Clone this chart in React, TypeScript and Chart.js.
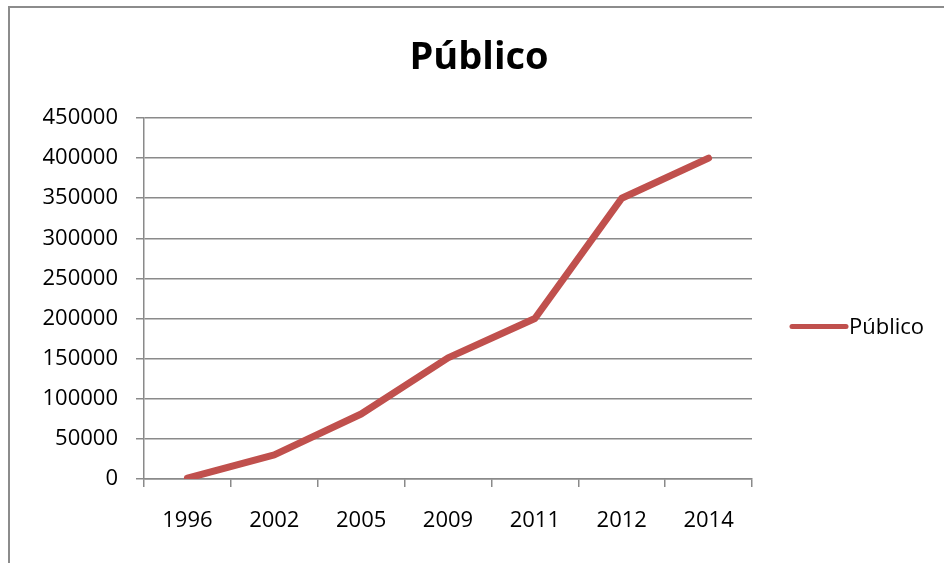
import React, { useEffect, useRef } from "react";
import { Chart, registerables } from "chart.js";

Chart.register(...registerables);

const categories = ["1996", "2002", "2005", "2009", "2011", "2012", "2014"];
const publico = [1000, 30000, 81000, 151000, 200000, 350000, 400000];
const seriesName = "Público";
const chartTitle = "Público";

const FONT = "'Open Sans', 'Liberation Sans', sans-serif";
const GRID = "#8a8a8a";
const RED = "#C0504D";

const customPlugin = {
  id: "excelDecor",
  afterDraw(chart: any) {
    const ctx = chart.ctx;
    const area = chart.chartArea;
    ctx.save();
    // title
    ctx.fillStyle = "#000";
    ctx.font = `bold 38px ${FONT}`;
    ctx.textAlign = "center";
    ctx.textBaseline = "alphabetic";
    ctx.fillText(chartTitle, chart.width / 2 + 2, 61);
    // legend
    const ly = (area.top + area.bottom) / 2 + 28;
    const lx = area.right + 40;
    ctx.strokeStyle = RED;
    ctx.lineWidth = 5;
    ctx.lineCap = "round";
    ctx.beginPath();
    ctx.moveTo(lx, ly);
    ctx.lineTo(lx + 54, ly);
    ctx.stroke();
    ctx.fillStyle = "#000";
    ctx.font = `22px ${FONT}`;
    ctx.textAlign = "left";
    ctx.textBaseline = "middle";
    ctx.fillText(seriesName, lx + 57, ly + 1);
    ctx.restore();
  },
};

export default function App() {
  const ref = useRef<HTMLCanvasElement | null>(null);
  useEffect(() => {
    if (!ref.current) return;
    const chart = new Chart(ref.current, {
      type: "line",
      data: {
        labels: categories,
        datasets: [
          {
            label: seriesName,
            data: publico,
            borderColor: RED,
            backgroundColor: RED,
            borderWidth: 7,
            pointRadius: 0,
            borderCapStyle: "round",
            borderJoinStyle: "round",
            tension: 0,
          },
        ],
      },
      options: {
        animation: false,
        responsive: false,
        layout: { padding: { top: 110, right: 192, left: 0, bottom: 0 } },
        plugins: {
          legend: { display: false },
          title: { display: false },
          tooltip: { enabled: false },
        },
        scales: {
          x: {
            offset: true,
            grid: {
              offset: true,
              drawOnChartArea: false,
              drawTicks: true,
              tickLength: 8,
              color: GRID,
              lineWidth: 1.5,
            },
            border: { color: GRID, width: 1.5 },
            ticks: {
              color: "#000",
              font: { family: FONT, size: 22 },
              padding: 21,
              maxRotation: 0,
            },
            afterFit(scale: any) {
              scale.height = 84;
            },
          },
          y: {
            min: 0,
            max: 450000,
            ticks: {
              stepSize: 50000,
              color: "#000",
              font: { family: FONT, size: 22 },
              padding: 18,
              callback: (v: any) => String(v),
            },
            grid: {
              color: GRID,
              lineWidth: 1.5,
              tickLength: 8,
            },
            border: { color: GRID, width: 1.5 },
            afterFit(scale: any) {
              scale.width = 134;
            },
          },
        },
      },
      plugins: [customPlugin],
    });
    return () => chart.destroy();
  }, []);
  return (
    <div
      style={{
        position: "absolute",
        left: 8,
        top: 6,
        width: 934,
        height: 555,
        borderTop: "2px solid #8c8c8c",
        borderLeft: "2px solid #8c8c8c",
        background: "#fff",
      }}
    >
      <canvas ref={ref} width={934} height={555} style={{ display: "block" }} />
    </div>
  );
}
